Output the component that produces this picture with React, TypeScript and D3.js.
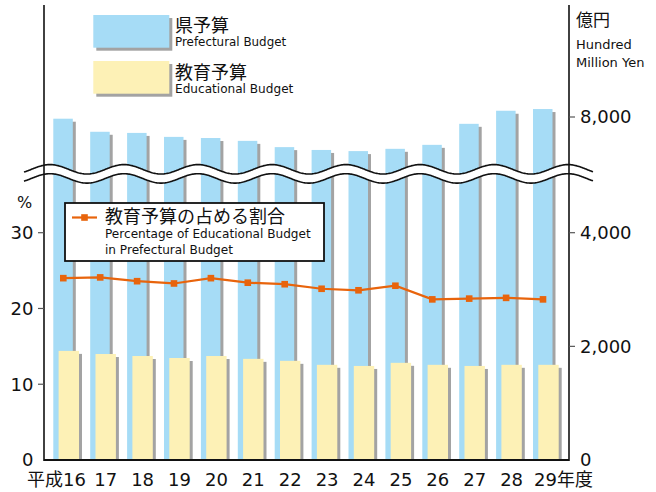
import React from "react";
import * as d3 from "d3";

const years = ["16", "17", "18", "19", "20", "21", "22", "23", "24", "25", "26", "27", "28", "29"];
const prefBudget = [7970, 7740, 7720, 7650, 7630, 7580, 7470, 7420, 7400, 7440, 7510, 7880, 8110, 8140];
const eduBudget = [1920, 1865, 1830, 1795, 1830, 1780, 1745, 1675, 1655, 1710, 1675, 1655, 1675, 1675];
const eduShare = [24.0, 24.1, 23.6, 23.3, 24.0, 23.4, 23.2, 22.6, 22.4, 23.0, 21.2, 21.3, 21.4, 21.2];
const pctTicks = [0, 10, 20, 30];
const lowerYenTicks = [0, 2000, 4000];
const upperYenTicks = [8000];

const W = 656;
const H = 492;
const LEFT = 44;
const RIGHT = 569;
const BASE = 460;

const BLUE = "#a6dcf6";
const YELLOW = "#fdf1b6";
const SHADOW = "#a3a3a3";
const ORANGE = "#e8640c";
const LATIN = "'DejaVu Sans', 'Noto Sans CJK JP', sans-serif";
const CJK = "'Noto Sans CJK JP', 'DejaVu Sans', sans-serif";

export default function App() {
  const x = d3.scalePoint<string>().domain(years).range([63.3, 543]);
  const yPct = d3.scaleLinear().domain([0, 30]).range([BASE, 232.7]);
  const yLow = d3.scaleLinear().domain([0, 4000]).range([BASE, 232.7]);
  const slope = (BASE - 232.7) / 4000;
  const yUp = d3.scaleLinear().domain([4000, 8000]).range([117 + 4000 * slope, 117]);

  const blueW = 19.5;
  const yelW = 20.4;
  const blueOff = -10;
  const yelOff = -4.7;

  // wave break
  const period = 74;
  const amp = 4.7;
  const crest = 50;
  const xs = d3.range(24, 594, 1);
  const wave = (c: number) => xs.map((xx) => [xx, c - amp * Math.cos((2 * Math.PI * (xx - crest)) / period)] as [number, number]);
  const upper = wave(169.3);
  const lower = wave(178.4);
  const lineGen = d3.line();
  const band = lineGen([...upper, ...lower.slice().reverse()]) + "Z";

  const pctLine = d3.line<number>()
    .x((_, i) => x(years[i]) as number)
    .y((d) => yPct(d));

  return (
    <svg width={W} height={H} style={{ position: "absolute", left: 0, top: 0, background: "#fff" }}>
      {/* blue bars */}
      {years.map((yr, i) => {
        const cx = x(yr) as number;
        const top = yUp(prefBudget[i]);
        return (
          <g key={"b" + yr}>
            <rect x={cx + blueOff + 3} y={top + 3} width={blueW} height={BASE - top - 3} fill={SHADOW} />
            <rect x={cx + blueOff} y={top} width={blueW} height={BASE - top} fill={BLUE} />
          </g>
        );
      })}
      {/* yellow bars */}
      {years.map((yr, i) => {
        const cx = x(yr) as number;
        const top = yLow(eduBudget[i]);
        return (
          <g key={"y" + yr}>
            <rect x={cx + yelOff + 3} y={top + 3} width={yelW} height={BASE - top - 3} fill={SHADOW} />
            <rect x={cx + yelOff} y={top} width={yelW} height={BASE - top} fill={YELLOW} />
          </g>
        );
      })}

      {/* break band */}
      <path d={band} fill="#fff" stroke="none" />
      <path d={lineGen(upper) as string} fill="none" stroke="#111" strokeWidth={1.6} />
      <path d={lineGen(lower) as string} fill="none" stroke="#111" strokeWidth={1.6} />

      {/* axes */}
      <line x1={LEFT} x2={LEFT} y1={5} y2={BASE + 1} stroke="#111" strokeWidth={1.6} />
      <line x1={RIGHT} x2={RIGHT} y1={5} y2={BASE + 1} stroke="#111" strokeWidth={1.6} />
      <line x1={LEFT} x2={RIGHT} y1={BASE} y2={BASE} stroke="#111" strokeWidth={2} />

      {pctTicks.map((t) => (
        <g key={"lp" + t}>
          {t > 0 && <line x1={LEFT - 6} x2={LEFT} y1={yPct(t)} y2={yPct(t)} stroke="#555" strokeWidth={1.2} />}
          <text x={33.5} y={yPct(t)} dy="0.36em" textAnchor="end" fontFamily={LATIN} fontSize={18} fill="#111">
            {t}
          </text>
        </g>
      ))}
      {lowerYenTicks.map((t) => (
        <g key={"ry" + t}>
          {t > 0 && <line x1={RIGHT} x2={RIGHT + 6} y1={yLow(t)} y2={yLow(t)} stroke="#555" strokeWidth={1.2} />}
          <text x={580} y={yLow(t)} dy="0.36em" fontFamily={LATIN} fontSize={18} fill="#111">
            {d3.format(",")(t)}
          </text>
        </g>
      ))}
      {upperYenTicks.map((t) => (
        <g key={"ru" + t}>
          <line x1={RIGHT} x2={RIGHT + 6} y1={yUp(t)} y2={yUp(t)} stroke="#555" strokeWidth={1.2} />
          <text x={580} y={yUp(t)} dy="0.36em" fontFamily={LATIN} fontSize={18} fill="#111">
            {d3.format(",")(t)}
          </text>
        </g>
      ))}

      {/* x labels */}
      {years.map((yr, i) => {
        const cx = x(yr) as number;
        if (i === 0) {
          return (
            <text key={"x" + yr} x={cx + 22.7} y={486} textAnchor="end" fontFamily={LATIN} fontSize={18} fill="#111">
              {"平成" + yr}
            </text>
          );
        }
        if (i === years.length - 1) {
          return (
            <text key={"x" + yr} x={cx - 9} y={486} fontFamily={LATIN} fontSize={18} fill="#111">
              {yr + "年度"}
            </text>
          );
        }
        return (
          <text key={"x" + yr} x={cx + 5.5} y={486} textAnchor="middle" fontFamily={LATIN} fontSize={18} fill="#111">
            {yr}
          </text>
        );
      })}

      {/* axis titles */}
      <text x={17} y={208} fontFamily={LATIN} fontSize={16} fill="#111">%</text>
      <text x={576} y={26} fontFamily={CJK} fontSize={17} fill="#111">億円</text>
      <text x={576} y={49} fontFamily={LATIN} fontSize={13} fill="#111">Hundred</text>
      <text x={576} y={66.5} fontFamily={LATIN} fontSize={13} fill="#111">Million Yen</text>

      {/* percentage line */}
      <path d={pctLine(eduShare) as string} fill="none" stroke={ORANGE} strokeWidth={2.2} />
      {eduShare.map((v, i) => (
        <rect key={"m" + i} x={(x(years[i]) as number) - 3.3} y={yPct(v) - 3.3} width={6.6} height={6.6} fill={ORANGE} />
      ))}

      {/* bar legend */}
      <rect x={96.3} y={18} width={76} height={32.7} fill={SHADOW} />
      <rect x={93.3} y={15} width={76} height={32.7} fill={BLUE} />
      <text x={175} y={31.5} fontFamily={CJK} fontSize={18} fill="#111">県予算</text>
      <text x={175} y={46} fontFamily={LATIN} fontSize={11.9} fill="#111">Prefectural Budget</text>
      <rect x={96.3} y={64} width={76} height={32.7} fill={SHADOW} />
      <rect x={93.3} y={61} width={76} height={32.7} fill={YELLOW} />
      <text x={175} y={78.5} fontFamily={CJK} fontSize={18} fill="#111">教育予算</text>
      <text x={175} y={92.5} fontFamily={LATIN} fontSize={12.1} fill="#111">Educational Budget</text>

      {/* line legend */}
      <rect x={65} y={203} width={259} height={58} fill="#fff" stroke="#111" strokeWidth={1.8} />
      <line x1={72} x2={97} y1={217.5} y2={217.5} stroke={ORANGE} strokeWidth={2.2} />
      <rect x={84.5 - 3.3} y={217.5 - 3.3} width={6.6} height={6.6} fill={ORANGE} />
      <text x={105} y={222.5} fontFamily={CJK} fontSize={18} fill="#111">教育予算の占める割合</text>
      <text x={105} y={238} fontFamily={LATIN} fontSize={12.1} fill="#111">Percentage of Educational Budget</text>
      <text x={105} y={253.5} fontFamily={LATIN} fontSize={12.1} fill="#111">in Prefectural Budget</text>
    </svg>
  );
}
